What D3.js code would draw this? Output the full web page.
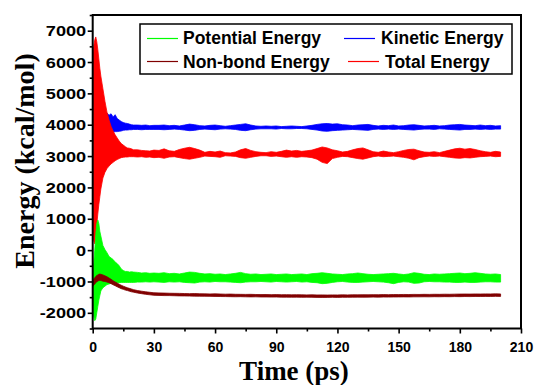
<!DOCTYPE html>
<html>
<head>
<meta charset="utf-8">
<script src="https://cdn.jsdelivr.net/npm/d3@7"></script>
<style>
  body { margin: 0; background: #fff; }
  svg { display: block; }
  .tick text { font-family: "Liberation Sans", Arial, sans-serif; font-weight: bold; font-size: 14px; fill: #000; }
  .legend text { font-family: "Liberation Sans", Arial, sans-serif; font-weight: bold; font-size: 17.5px; }
  .title { font-family: "Liberation Serif", "Times New Roman", serif; font-weight: bold; font-size: 27px; }
</style>
</head>
<body>
<svg id="chart" width="535" height="385"></svg>
<script>
// time grid (ps)
const times = [0, 0.5, 1, 1.5, 2, 2.5, 3, 3.5, 4, 5, 6, 7, 8, 9, 10, 11, 12, 13, 14, 15, 16, 17, 18, 19, 20, 22, 24, 26, 28, 30,
  32.5, 35, 37.5, 40, 42.5, 45, 47.5, 50, 52.5, 55, 57.5, 60, 62.5, 65, 67.5, 70, 72.5, 75, 77.5, 80,
  82.5, 85, 87.5, 90, 92.5, 95, 97.5, 100, 102.5, 105, 107.5, 110, 112.5, 115, 117.5, 120, 122.5, 125, 127.5, 130,
  132.5, 135, 137.5, 140, 142.5, 145, 147.5, 150, 152.5, 155, 157.5, 160, 162.5, 165, 167.5, 170, 172.5, 175, 177.5, 180,
  182.5, 185, 187.5, 190, 192.5, 195, 197.5, 200];

// upper / lower envelope of each fluctuating series (kcal/mol)
const totalHi = [6200, 6500, 6700, 6800, 6650, 6400, 6100, 5800, 5550, 5150, 4750, 4400, 4150, 3950, 3800, 3680, 3580, 3480, 3400, 3350, 3300, 3260, 3250, 3230, 3200, 3200, 3180, 3170, 3160, 3190,
  3180, 3230, 3170, 3150, 3210, 3250, 3280, 3240, 3190, 3120,
  3150, 3130, 3160, 3110, 3100, 3130, 3200, 3240, 3180, 3140,
  3120, 3110, 3140, 3120, 3150, 3190, 3160, 3180, 3150, 3170,
  3190, 3240, 3290, 3260, 3200, 3170, 3130, 3150, 3200, 3240,
  3260, 3200, 3140, 3120, 3160, 3130, 3110, 3140, 3180, 3210,
  3220, 3170, 3130, 3120, 3140, 3110, 3150, 3190, 3230, 3250,
  3220, 3240, 3210, 3170, 3140, 3120, 3150, 3130];
const totalLo = [600, 300, 200, 400, 800, 1150, 1450, 1700, 1950, 2300, 2480, 2600, 2680, 2750, 2800, 2850, 2890, 2920, 2950, 2960, 2970, 2970, 2980, 2980, 2980, 2970, 2980, 2960, 2970, 2950,
  2960, 2930, 2970, 2980, 2950, 2920, 2900, 2930, 2960, 3000,
  2990, 2980, 2960, 3010, 3000, 2990, 2950, 2930, 2960, 2990,
  3010, 3010, 2990, 3000, 2980, 2960, 2980, 2960, 2980, 2970,
  2950, 2900, 2800, 2760, 2920, 2960, 2990, 2980, 2950, 2920,
  2900, 2940, 2980, 3000, 2980, 2990, 3000, 2980, 2960, 2930,
  2880, 2950, 2980, 3000, 2990, 3000, 2980, 2960, 2940, 2930,
  2950, 2940, 2960, 2980, 2990, 3000, 2980, 2990];

const kineticHi = [3000, 4000, 5000, 5500, 5600, 5500, 5300, 5100, 4900, 4500, 4400, 4380, 4300, 4350, 4250, 4320, 4200, 4150, 4100, 4070, 4050, 4040, 4020, 4000, 3990, 3990, 3980, 3990, 3970, 3980,
  3980, 3990, 3970, 3980, 3960, 3990, 4020, 4000, 3970, 3960,
  3980, 3990, 3970, 3950, 3970, 3990, 4010, 4030, 3990, 3960,
  3950, 3960, 3950, 3960, 3940, 3950, 3960, 3950, 3940, 3960,
  3980, 4010, 4030, 4040, 4020, 4030, 4000, 3990, 3970, 3990,
  4000, 4010, 3980, 3960, 3980, 3970, 3990, 3960, 3970, 3990,
  4000, 3980, 3960, 3970, 3980, 3960, 3970, 3990, 4000, 4010,
  3990, 3980, 3970, 3990, 3970, 3980, 3960, 3970];
const kineticLo = [2000, 2500, 3000, 3200, 3300, 3350, 3400, 3450, 3500, 3600, 3650, 3700, 3720, 3750, 3760, 3780, 3780, 3790, 3800, 3820, 3830, 3830, 3840, 3840, 3850, 3850, 3840, 3850, 3850, 3850,
  3850, 3840, 3850, 3860, 3850, 3830, 3810, 3820, 3850, 3860,
  3850, 3840, 3860, 3870, 3860, 3850, 3820, 3810, 3840, 3860,
  3870, 3870, 3870, 3860, 3880, 3870, 3870, 3880, 3880, 3870,
  3850, 3830, 3800, 3790, 3810, 3820, 3830, 3840, 3850, 3840,
  3830, 3820, 3850, 3860, 3850, 3860, 3850, 3860, 3850, 3840,
  3830, 3850, 3860, 3860, 3850, 3870, 3860, 3850, 3840, 3830,
  3850, 3850, 3860, 3850, 3860, 3850, 3860, 3860];

const potentialHi = [-800, -400, 0, 500, 850, 960, 850, 600, 450, 150, 20, -80, -200, -250, -300, -380, -430, -500, -600, -650, -680, -680, -700, -690, -700, -710, -730, -720, -740, -730,
  -740, -720, -750, -740, -760, -730, -700, -710, -740, -760,
  -750, -770, -760, -780, -760, -740, -710, -750, -770, -760,
  -780, -770, -760, -780, -770, -760, -780, -770, -760, -780,
  -750, -740, -720, -740, -760, -770, -780, -760, -750, -730,
  -750, -770, -780, -770, -760, -750, -740, -760, -780, -760,
  -720, -740, -770, -780, -760, -770, -760, -750, -740, -730,
  -750, -740, -720, -740, -760, -770, -760, -780];
const potentialLo = [-1600, -2100, -2250, -2200, -2000, -1800, -1600, -1450, -1300, -1200, -1150, -1100, -1080, -1060, -1050, -1050, -1040, -1040, -1030, -1030, -1030, -1030, -1030, -1030, -1030, -1020, -1020, -1010, -1020, -1010,
  -1020, -1030, -1010, -1020, -1010, -1030, -1040, -1050, -1020, -1010,
  -1020, -1000, -1010, -1010, -1020, -1030, -1040, -1020, -1010, -1010,
  -1000, -1010, -1020, -1000, -1010, -1020, -1010, -1000, -1020, -1010,
  -1030, -1040, -1070, -1060, -1030, -1010, -1000, -1020, -1030, -1030,
  -1020, -1010, -1000, -1010, -1020, -1040, -1070, -1030, -1010, -1020,
  -1060, -1050, -1010, -1000, -1010, -1010, -1020, -1020, -1030, -1030,
  -1020, -1030, -1030, -1020, -1010, -1010, -1020, -1020];

const nonbondHi = [-960, -920, -880, -840, -810, -790, -770, -765, -770, -790, -820, -850, -890, -930, -975, -1015, -1050, -1090, -1120, -1150, -1175, -1200, -1220, -1240, -1260, -1290, -1310, -1330, -1345, -1360,
  -1365, -1370, -1375, -1378, -1380, -1385, -1388, -1385, -1392, -1395,
  -1398, -1395, -1400, -1405, -1402, -1408, -1410, -1412, -1410, -1415,
  -1418, -1415, -1420, -1418, -1422, -1420, -1425, -1422, -1425, -1428,
  -1425, -1430, -1428, -1432, -1428, -1430, -1426, -1428, -1424, -1426,
  -1422, -1424, -1420, -1422, -1418, -1420, -1416, -1418, -1414, -1416,
  -1412, -1414, -1410, -1412, -1408, -1410, -1406, -1408, -1404, -1402,
  -1400, -1402, -1398, -1400, -1396, -1398, -1395, -1398];
const nonbondLo = [-1160, -1120, -1080, -1040, -1010, -990, -970, -965, -970, -990, -1000, -1020, -1040, -1070, -1105, -1135, -1170, -1200, -1230, -1250, -1275, -1290, -1310, -1330, -1340, -1370, -1390, -1410, -1425, -1440,
  -1445, -1450, -1450, -1455, -1460, -1462, -1465, -1468, -1470, -1472,
  -1475, -1478, -1480, -1482, -1485, -1488, -1485, -1490, -1492, -1490,
  -1495, -1495, -1498, -1496, -1500, -1500, -1502, -1500, -1505, -1502,
  -1505, -1508, -1510, -1508, -1505, -1508, -1504, -1505, -1502, -1500,
  -1502, -1500, -1498, -1500, -1496, -1498, -1495, -1494, -1492, -1494,
  -1490, -1490, -1488, -1490, -1486, -1488, -1484, -1486, -1482, -1484,
  -1480, -1482, -1478, -1480, -1476, -1478, -1475, -1476];

const xTicks = [0, 30, 60, 90, 120, 150, 180, 210];
const xMinor = [15, 45, 75, 105, 135, 165, 195];
const yTicks = [-2000, -1000, 0, 1000, 2000, 3000, 4000, 5000, 6000, 7000];
const yMinor = [-2500, -1500, -500, 500, 1500, 2500, 3500, 4500, 5500, 6500, 7500];

const seriesNames = ['Potential Energy', 'Kinetic Energy', 'Non-bond Energy', 'Total Energy'];
const seriesColors = ['#00ff00', '#0000ff', '#800000', '#ff0000'];

const margin = { top: 15, right: 14, bottom: 56.5, left: 92.7 };
const width = 535, height = 385;

const x = d3.scaleLinear().domain([0, 210]).range([margin.left, width - margin.right]);
const y = d3.scaleLinear().domain([-2500, 7500]).range([height - margin.bottom, margin.top]);

const svg = d3.select('#chart');

svg.append('defs').append('clipPath').attr('id', 'plot-clip')
  .append('rect')
  .attr('x', x(0)).attr('y', y(7500))
  .attr('width', x(210) - x(0)).attr('height', y(-2500) - y(7500));

const band = (hi, lo) => times.map((t, i) => ({ t, hi: hi[i], lo: lo[i] }));
const area = d3.area().x(d => x(d.t)).y0(d => y(d.lo)).y1(d => y(d.hi));

// drawing order: kinetic, total, potential, non-bond on top
const layers = [
  { data: band(kineticHi, kineticLo), color: seriesColors[1] },
  { data: band(totalHi, totalLo), color: seriesColors[3] },
  { data: band(potentialHi, potentialLo), color: seriesColors[0] },
  { data: band(nonbondHi, nonbondLo), color: seriesColors[2] }
];

const plot = svg.append('g').attr('clip-path', 'url(#plot-clip)');
plot.selectAll('path.band')
  .data(layers)
  .enter()
  .append('path')
  .classed('band', true)
  .attr('d', d => area(d.data))
  .attr('fill', d => d.color)
  .attr('stroke', d => d.color)
  .attr('stroke-width', 0.8);

// axes
const xAxis = d3.axisBottom(x).tickValues(xTicks).tickSize(5).tickFormat(d => String(d));
const xAxisMinor = d3.axisBottom(x).tickValues(xMinor).tickSize(3).tickFormat('');
const yAxis = d3.axisLeft(y).tickValues(yTicks).tickSize(5).tickFormat(d => String(d));
const yAxisMinor = d3.axisLeft(y).tickValues(yMinor).tickSize(3).tickFormat('');

const gx = svg.append('g').attr('transform', `translate(0,${y(-2500)})`).call(xAxis);
svg.append('g').attr('transform', `translate(0,${y(-2500)})`).call(xAxisMinor);
const gy = svg.append('g').attr('transform', `translate(${x(0)},0)`).call(yAxis);
svg.append('g').attr('transform', `translate(${x(0)},0)`).call(yAxisMinor);

svg.selectAll('.domain').remove();
svg.selectAll('.tick line').attr('stroke', '#000').attr('stroke-width', 1.6);
gx.selectAll('.tick text').attr('y', 23).attr('dy', 0);
// y labels in the reference are drawn wider than the x labels
gy.selectAll('.tick text')
  .attr('x', -6.5).attr('dy', '0.36em')
  .attr('textLength', d => String(Math.abs(d)).length * 10.1 + (d < 0 ? 6 : 0))
  .attr('lengthAdjust', 'spacingAndGlyphs');

// frame
svg.append('rect')
  .attr('x', x(0)).attr('y', y(7500))
  .attr('width', x(210) - x(0)).attr('height', y(-2500) - y(7500))
  .attr('fill', 'none').attr('stroke', '#000').attr('stroke-width', 2);

// legend
const legend = svg.append('g').classed('legend', true);
legend.append('rect')
  .attr('x', 140).attr('y', 24).attr('width', 372).attr('height', 50)
  .attr('fill', '#fff').attr('stroke', '#000').attr('stroke-width', 1.5);

const legendPos = [
  { lx: 147, tx: 183, ly: 38.5, ty: 43.5 },
  { lx: 344, tx: 381, ly: 38.5, ty: 43.5 },
  { lx: 147, tx: 183, ly: 61.5, ty: 67.5 },
  { lx: 348, tx: 385, ly: 61.5, ty: 67.5 }
];
const items = legend.selectAll('g.item')
  .data(seriesNames)
  .enter()
  .append('g')
  .classed('item', true);
items.append('line')
  .attr('x1', (d, i) => legendPos[i].lx).attr('x2', (d, i) => legendPos[i].lx + 31)
  .attr('y1', (d, i) => legendPos[i].ly).attr('y2', (d, i) => legendPos[i].ly)
  .attr('stroke', (d, i) => seriesColors[i]).attr('stroke-width', 1.2);
items.append('text')
  .attr('x', (d, i) => legendPos[i].tx).attr('y', (d, i) => legendPos[i].ty)
  .text(d => d);

// axis titles
svg.append('text').classed('title', true)
  .attr('x', 294).attr('y', 380)
  .attr('text-anchor', 'middle')
  .text('Time (ps)');
svg.append('text').classed('title', true)
  .attr('transform', 'translate(34,161) rotate(-90)')
  .attr('text-anchor', 'middle')
  .style('font-size', '28px')
  .text('Energy (kcal/mol)');
</script>
</body>
</html>
